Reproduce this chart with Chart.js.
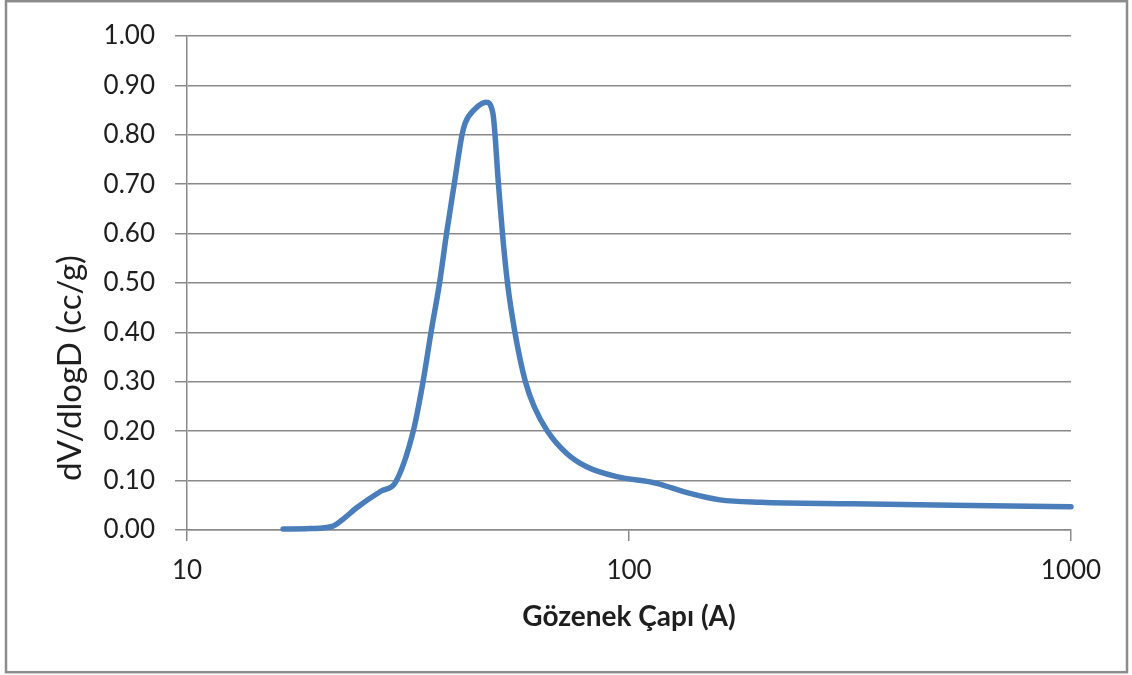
<!DOCTYPE html>
<html>
<head>
<meta charset="utf-8">
<title>Gözenek Boyut Dağılımı</title>
<script src="https://cdn.jsdelivr.net/npm/chart.js@4/dist/chart.umd.min.js"></script>
<style>
    body { margin: 0; background: #fff; overflow: hidden; }
    #wrap { width: 1132px; height: 675px; }
</style>
</head>
<body>
<div id="wrap"><canvas id="poreChart" width="1132" height="675"></canvas></div>
<script>
// pore diameter (A) and dV/dlogD (cc/g)
const poreDiameter = [16.5, 19.0, 21.4, 22.7, 24.2, 27.5, 29.6, 32.5, 34.2, 35.65, 37.27, 38.65, 40.23, 41.9, 42.6, 44.8, 47.5,
    49.2, 50.66, 51.73, 53.1, 55.2, 58.3, 61.0, 65.4, 72.3, 80.2, 93.8, 115.5, 136, 160.7, 198, 321, 540, 1000];
const dvDlogD = [0.002, 0.003, 0.008, 0.024, 0.045, 0.079, 0.096, 0.20, 0.30, 0.40, 0.50, 0.60, 0.70, 0.80, 0.824, 0.852, 0.866,
    0.844, 0.70, 0.60, 0.50, 0.40, 0.30, 0.25, 0.20, 0.155, 0.128, 0.108, 0.0945, 0.075, 0.061, 0.056, 0.053, 0.050, 0.047];

const xTicks = [10, 100, 1000];
const yTitle = "dV/dlogD (cc/g)";
const xTitle = "Gözenek Çapı (A)";

const gridColor = "#8a8a8a";
const textColor = "#1e1e1e";

// outer frame + rotated y title
const framePlugin = {
    id: "frame",
    beforeDraw(chart) {
        const ctx = chart.ctx;
        ctx.save();
        ctx.fillStyle = "#fff";
        ctx.fillRect(0, 0, chart.width, chart.height);
        ctx.strokeStyle = "#8c8c8c";
        ctx.lineWidth = 2.5;
        ctx.strokeRect(6, 1.2, 1121, 671);
        ctx.restore();
    },
    afterDraw(chart) {
        const ctx = chart.ctx;
        ctx.save();
        ctx.translate(70, 368);
        ctx.rotate(-Math.PI / 2);
        ctx.font = "33px Lato";
        ctx.fillStyle = textColor;
        ctx.textAlign = "center";
        ctx.textBaseline = "middle";
        ctx.fillText(yTitle, 0, 0);
        ctx.restore();
    }
};

const points = poreDiameter.map((d, i) => ({ x: d, y: dvDlogD[i] }));

new Chart(document.getElementById("poreChart"), {
    type: "line",
    data: {
        datasets: [{
            data: points,
            borderColor: "#4A7EBB",
            borderWidth: 5.5,
            pointRadius: 0,
            fill: false,
            cubicInterpolationMode: "monotone",
            borderCapStyle: "round",
            borderJoinStyle: "round",
            clip: false
        }]
    },
    options: {
        responsive: false,
        animation: false,
        layout: { padding: { top: 36, right: 61, left: 0, bottom: 0 } },
        plugins: {
            legend: { display: false },
            tooltip: { enabled: false }
        },
        scales: {
            x: {
                type: "logarithmic",
                min: 10,
                max: 1000,
                afterBuildTicks: axis => { axis.ticks = xTicks.map(v => ({ value: v })); },
                afterFit: axis => { axis.height = 145; },
                grid: { drawOnChartArea: false, drawTicks: true, tickLength: 11, color: gridColor, lineWidth: 1.5 },
                border: { color: gridColor, width: 1.5 },
                ticks: {
                    autoSkip: false,
                    maxRotation: 0,
                    padding: 14,
                    color: textColor,
                    font: { family: "Lato", size: 26 },
                    callback: v => String(v)
                },
                title: {
                    display: true,
                    text: xTitle,
                    color: textColor,
                    font: { family: "Lato", size: 28, weight: "bold" },
                    padding: { top: 0, bottom: 41 }
                }
            },
            y: {
                min: 0,
                max: 1,
                afterFit: axis => { axis.width = 187; },
                grid: { color: gridColor, lineWidth: 1.5, tickLength: 12 },
                border: { color: gridColor, width: 1.5 },
                ticks: {
                    stepSize: 0.1,
                    padding: 20,
                    color: textColor,
                    font: { family: "Lato", size: 26 },
                    callback: v => v.toFixed(2)
                }
            }
        }
    },
    plugins: [framePlugin]
});
</script>
</body>
</html>
